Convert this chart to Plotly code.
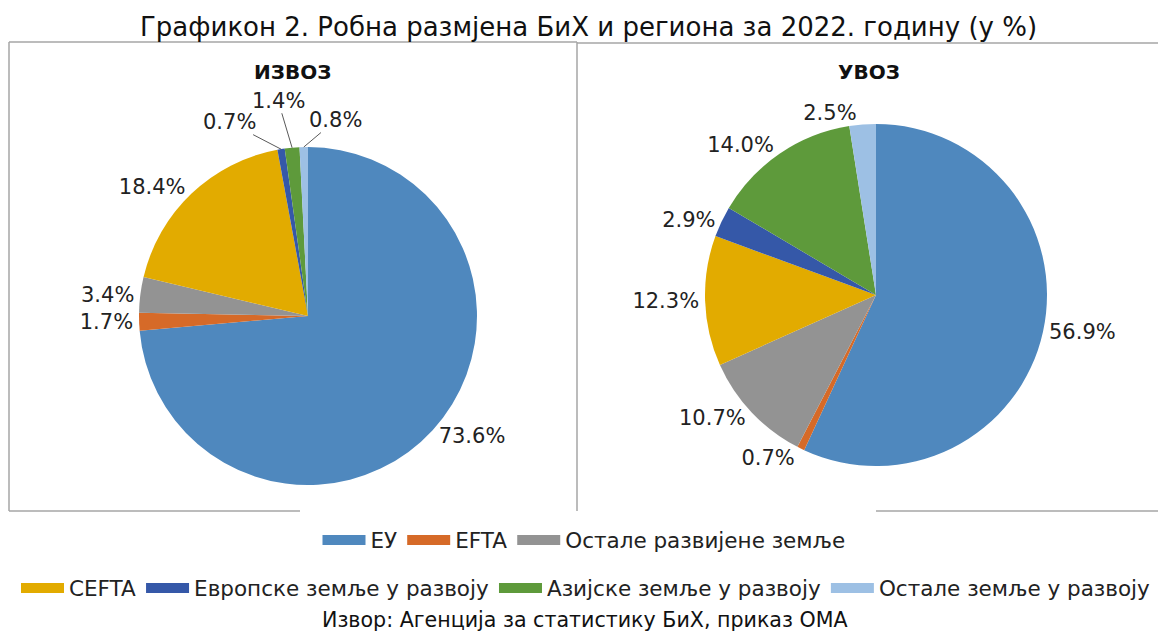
import math
import plotly.graph_objects as go

categories = ["ЕУ", "EFTA", "Остале развијене земље", "CEFTA",
              "Европске земље у развоју", "Азијске земље у развоју", "Остале земље у развоју"]
izvoz = [73.6, 1.7, 3.4, 18.4, 0.7, 1.4, 0.8]
uvoz = [56.9, 0.7, 10.7, 12.3, 2.9, 14.0, 2.5]
colors = ["#4F88BE", "#D66A28", "#939393", "#E2AB00", "#3558A8", "#5E9A3B", "#9DC0E4"]

W, H = 1166, 632
OFF = 8  # page body margin
def px(x): return (x - OFF) / W
def py(y): return 1 - (y - OFF) / H

FONT = "DejaVu Sans"
LABEL_SIZE = 21
fig = go.Figure()

def pie_domain(cx, cy, r):
    return dict(x=[px(cx - r), px(cx + r)], y=[py(cy + r), py(cy - r)])

# left pie: the three thin top slices get leader-line annotations (like the original)
L_CX, L_CY, L_R = 308, 316, 169
small_left = {4: (-52, -27), 5: (-14, -47), 6: (32, -27)}  # label offsets in px
left_pos = ["none" if i in small_left else "outside" for i in range(len(izvoz))]

fig.add_trace(go.Pie(
    labels=categories, values=izvoz, sort=False, direction="clockwise", rotation=0,
    marker=dict(colors=colors, line=dict(width=0)),
    textposition=left_pos, texttemplate="%{value:.1f}%",
    textfont=dict(family=FONT, size=LABEL_SIZE, color="#222222"),
    showlegend=False, domain=pie_domain(L_CX, L_CY, L_R), hoverinfo="label+value",
))
fig.add_trace(go.Pie(
    labels=categories, values=uvoz, sort=False, direction="clockwise", rotation=0,
    marker=dict(colors=colors, line=dict(width=0)),
    textposition="outside", texttemplate="%{value:.1f}%",
    textfont=dict(family=FONT, size=LABEL_SIZE, color="#222222"),
    showlegend=False, domain=pie_domain(876, 295, 171), hoverinfo="label+value",
))

for i, (name, col) in enumerate(zip(categories, colors)):
    fig.add_trace(go.Scatter(x=[None], y=[None], name=name, mode="lines",
                             line=dict(color=col, width=10),
                             legend="legend" if i < 3 else "legend2", showlegend=True))

line = dict(color="#A6A6A6", width=1.5)
def seg(x0, y0, x1, y1):
    return dict(type="line", xref="paper", yref="paper", x0=px(x0), x1=px(x1), y0=py(y0), y1=py(y1), line=line)
shapes = [
    seg(9, 42, 577, 42), seg(577, 43, 1162, 43),
    seg(9, 42, 9, 511), seg(577, 42, 577, 511), seg(1162, 43, 1162, 511),
    seg(9, 511, 300, 511), seg(876, 511, 1162, 511),
]

def ann(text, x, y, size):
    return dict(text=text, x=px(x), y=py(y), xref="paper", yref="paper", showarrow=False,
                xanchor="center", yanchor="middle", font=dict(family=FONT, size=size, color="#111111"))

annotations = [
    ann("Графикон 2. Робна размјена БиХ и региона за 2022. годину (у %)", 588, 27, 26),
    ann("<b>ИЗВОЗ</b>", 292, 72, 20),
    ann("<b>УВОЗ</b>", 869, 72, 20),
    ann("Извор: Агенција за статистику БиХ, приказ ОМА", 585, 620, 20.6),
]

# leader-line labels for the thin slices, tip computed from the slice mid-angle
total = sum(izvoz)
cum = 0.0
for i, v in enumerate(izvoz):
    mid = (cum + v / 2) / total * 2 * math.pi
    cum += v
    if i not in small_left:
        continue
    tx = L_CX + L_R * math.sin(mid)
    ty = L_CY - L_R * math.cos(mid)
    ax, ay = small_left[i]
    annotations.append(dict(
        text=f"{v:.1f}%", x=px(tx), y=py(ty), xref="paper", yref="paper",
        showarrow=True, arrowhead=0, arrowwidth=1, arrowcolor="#595959", ax=ax, ay=ay,
        standoff=0, borderpad=0, font=dict(family=FONT, size=LABEL_SIZE, color="#222222")))

leg_common = dict(orientation="h", xanchor="center", yanchor="middle", itemwidth=43,
                  font=dict(family=FONT, size=21.5, color="#222222"), bgcolor="rgba(0,0,0,0)",
                  itemclick=False, itemdoubleclick=False)
fig.update_layout(
    width=W, height=H, margin=dict(l=0, r=0, t=0, b=0),
    paper_bgcolor="white", plot_bgcolor="white",
    xaxis=dict(visible=False), yaxis=dict(visible=False),
    shapes=shapes, annotations=annotations,
    legend=dict(x=px(584), y=py(540), **leg_common),
    legend2=dict(x=px(586), y=py(588), **leg_common),
)
fig.write_html("out.html")
